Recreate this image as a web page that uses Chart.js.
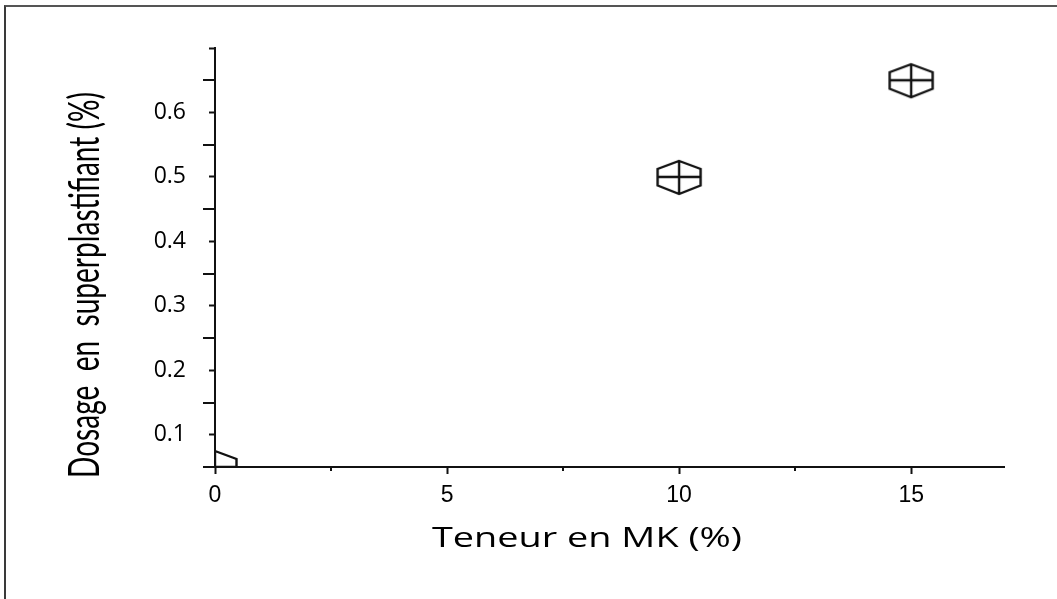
<!DOCTYPE html>
<html>
<head>
<meta charset="utf-8">
<script src="https://cdn.jsdelivr.net/npm/chart.js@4.4.1/dist/chart.umd.min.js"></script>
<style>
  html, body { margin: 0; padding: 0; background: #fff; }
  #wrap { position: relative; width: 1057px; height: 599px; overflow: hidden; }
  #frame { position: absolute; left: 4px; top: 5px; right: -10px; bottom: -10px;
           border-top: 2px solid #555; border-left: 2px solid #3a3a3a; }
  #c { position: absolute; left: 0; top: 0; }
</style>
</head>
<body>
<div id="wrap">
  <div id="frame"></div>
  <canvas id="c" width="1057" height="599"></canvas>
</div>
<script>
// Metakaolin content (%) and the superplasticizer dosage (%) it needs
const mkContent = [0, 10, 15];
const spDosage  = [0.05, 0.5, 0.65];

// Axis ticks
const xMajorTicks = [0, 5, 10, 15];
const xMinorTicks = [2.5, 7.5, 12.5];
const yShortTicks = [0.1, 0.2, 0.3, 0.4, 0.5, 0.6, 0.7];
const yTickLabels = ['0.1', '0.2', '0.3', '0.4', '0.5', '0.6', ''];
const yLongTicks  = [0.05, 0.15, 0.25, 0.35, 0.45, 0.55, 0.65];

const xTitle = 'Teneur en MK (%)';
const yTitle = 'Dosage  en  superplastifiant (%)';

const INK = '#111';

// Hexagon marker with a cross through its centre
function hexMarker() {
  const c = document.createElement('canvas');
  c.width = 50; c.height = 40;
  const g = c.getContext('2d');
  g.translate(25, 20);
  g.strokeStyle = INK;
  g.lineWidth = 2.4;
  g.lineJoin = 'miter';
  g.beginPath();
  g.moveTo(0, -16); g.lineTo(21.5, -8); g.lineTo(21.5, 8.5);
  g.lineTo(0, 17); g.lineTo(-21.5, 8.5); g.lineTo(-21.5, -8);
  g.closePath();
  g.moveTo(-21.5, 0); g.lineTo(21.5, 0);
  g.moveTo(0, -16); g.lineTo(0, 17);
  g.stroke();
  return c;
}

// Extra tick marks of different length, plus the two axis titles
const axisDecor = {
  id: 'axisDecor',
  afterDraw(chart) {
    const { ctx, chartArea: a, scales: { x, y } } = chart;
    ctx.save();
    ctx.strokeStyle = INK;
    ctx.lineWidth = 2;
    ctx.beginPath();
    yLongTicks.forEach(v => {
      const py = Math.round(y.getPixelForValue(v));
      ctx.moveTo(a.left - 12, py); ctx.lineTo(a.left, py);
    });
    xMinorTicks.forEach(v => {
      const px = Math.round(x.getPixelForValue(v));
      ctx.moveTo(px, a.bottom); ctx.lineTo(px, a.bottom + 4);
    });
    ctx.stroke();

    ctx.fillStyle = '#000';

    // x title
    ctx.save();
    ctx.font = '27px "Open Sans"';
    const wx = ctx.measureText(xTitle).width;
    ctx.translate(587, 539);
    ctx.scale(310 / wx, 1);
    ctx.textAlign = 'center';
    ctx.textBaseline = 'middle';
    ctx.fillText(xTitle, 0, 0);
    ctx.restore();

    // y title, rotated and condensed
    ctx.save();
    ctx.font = '43px Lato';
    const wy = ctx.measureText(yTitle).width;
    ctx.translate(99, 285);
    ctx.rotate(-Math.PI / 2);
    ctx.scale(386 / wy, 1);
    ctx.textAlign = 'center';
    ctx.textBaseline = 'alphabetic';
    ctx.fillText(yTitle, 0, 0);
    ctx.restore();

    ctx.restore();
  }
};

new Chart(document.getElementById('c'), {
  type: 'scatter',
  data: {
    datasets: [{
      data: mkContent.map((v, i) => ({ x: v, y: spDosage[i] })),
      pointStyle: hexMarker(),
      pointRadius: 20,
      pointHoverRadius: 20,
      showLine: false,
      clip: 0
    }]
  },
  options: {
    responsive: false,
    animation: false,
    events: [],
    layout: { padding: { top: 48, right: 53, left: 0, bottom: 0 } },
    plugins: { legend: { display: false }, tooltip: { enabled: false } },
    scales: {
      x: {
        type: 'linear',
        min: 0, max: 17,
        afterBuildTicks: s => { s.ticks = xMajorTicks.map(v => ({ value: v })); },
        afterFit: s => { s.height = 132; },
        grid: { drawOnChartArea: false, tickLength: 7, tickWidth: 2, tickColor: INK },
        border: { color: INK, width: 2 },
        ticks: {
          font: { family: 'Liberation Sans', size: 23 },
          color: '#000',
          padding: 8,
          maxRotation: 0,
          autoSkip: false,
          callback: v => String(v)
        }
      },
      y: {
        type: 'linear',
        min: 0.05, max: 0.70,
        afterBuildTicks: s => { s.ticks = yShortTicks.map(v => ({ value: v })); },
        afterFit: s => { s.width = 215; },
        grid: { drawOnChartArea: false, tickLength: 6, tickWidth: 2, tickColor: INK },
        border: { color: INK, width: 2 },
        ticks: {
          font: { family: 'Open Sans', size: 23 },
          color: '#000',
          padding: 23,
          autoSkip: false,
          callback: (v, i) => yTickLabels[i]
        }
      }
    }
  },
  plugins: [axisDecor]
});
</script>
</body>
</html>
